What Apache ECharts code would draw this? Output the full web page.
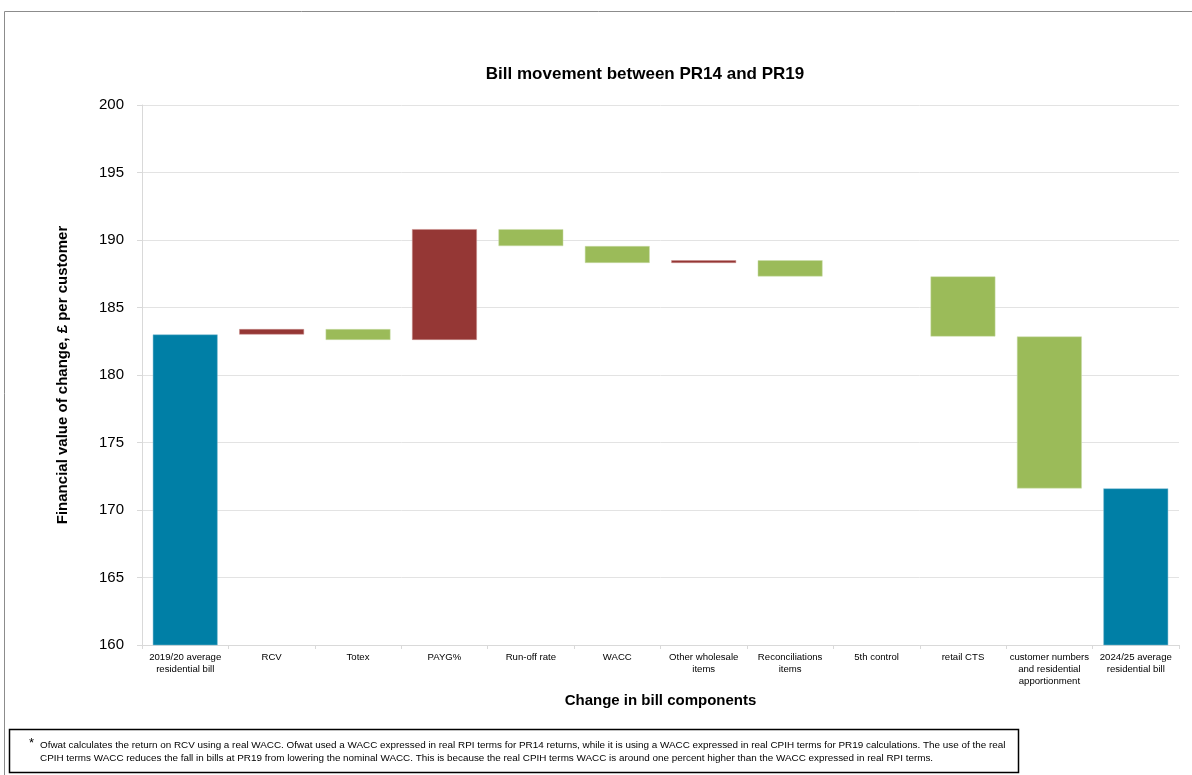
<!DOCTYPE html>
<html>
<head>
<meta charset="utf-8">
<script src="https://cdn.jsdelivr.net/npm/echarts@6/dist/echarts.min.js"></script>
<style>
  html, body { margin: 0; padding: 0; background: #ffffff; }
  #chart { width: 1192px; height: 775px; }
</style>
</head>
<body>
<div id="chart"></div>
<script>
// Bill components between the two price reviews (£ per customer)
const categories = [
  '2019/20 average\nresidential bill', 'RCV', 'Totex', 'PAYG%', 'Run-off rate', 'WACC',
  'Other wholesale\nitems', 'Reconciliations\nitems', '5th control', 'retail CTS',
  'customer numbers\nand residential\napportionment', '2024/25 average\nresidential bill'
];
// Opening bill, step changes (positive = bill goes up), closing bill
const startBill = 183.0;
const changes = [0.4, -0.8, 8.2, -1.25, -1.25, 0.2, -1.2, 0, -4.45, -11.25];
const endBill = 171.6;
const yTicks = [160, 165, 170, 175, 180, 185, 190, 195, 200];

// Waterfall built from the running total
const base = [], rise = [], fall = [], total = [];
let running = startBill;
base.push('-'); rise.push('-'); fall.push('-'); total.push(startBill);
changes.forEach(function (d) {
  const next = running + d;
  base.push(Math.min(running, next));
  rise.push(d > 0 ? d : '-');
  fall.push(d < 0 ? -d : '-');
  total.push('-');
  running = next;
});
base.push('-'); rise.push('-'); fall.push('-'); total.push(endBill);

const chart = echarts.init(document.getElementById('chart'));
const font = 'Liberation Sans, Arial, sans-serif';

chart.setOption({
  animation: false,
  title: {
    text: 'Bill movement between PR14 and PR19',
    left: 640, top: 61, textAlign: 'center',
    textStyle: { fontFamily: font, fontSize: 17, fontWeight: 'bold', color: '#000' }
  },
  grid: { left: 142, right: 13, top: 105, bottom: 130 },
  xAxis: {
    type: 'category',
    data: categories,
    name: 'Change in bill components',
    nameLocation: 'middle',
    nameGap: 48,
    nameTextStyle: { fontFamily: font, fontSize: 15, fontWeight: 'bold', color: '#000' },
    axisLine: { lineStyle: { color: '#d9d9d9' } },
    axisTick: { show: true, alignWithLabel: false, length: 4, lineStyle: { color: '#d9d9d9' } },
    axisLabel: { interval: 0, fontFamily: font, fontSize: 9.6, color: '#000', lineHeight: 12, margin: 6 }
  },
  yAxis: {
    type: 'value',
    min: 160, max: 200, interval: 5,
    name: 'Financial value of change, £ per customer',
    nameLocation: 'middle',
    nameGap: 72,
    nameTextStyle: { fontFamily: font, fontSize: 15, fontWeight: 'bold', color: '#000' },
    axisLine: { show: true, lineStyle: { color: '#d9d9d9' } },
    axisTick: { show: true, length: 5, lineStyle: { color: '#d9d9d9' } },
    axisLabel: {
      fontFamily: font, fontSize: 15, color: '#000', margin: 18,
      formatter: function (v) { return yTicks.indexOf(v) >= 0 ? String(v) : ''; }
    },
    splitLine: { lineStyle: { color: '#e3e3e3' } }
  },
  series: [
    { name: 'base', type: 'bar', stack: 'w', data: base, barWidth: '75%',
      itemStyle: { color: 'transparent' }, silent: true },
    { name: 'increase', type: 'bar', stack: 'w', data: rise, barWidth: '75%',
      itemStyle: { color: '#953735', borderColor: '#c98c8a', borderWidth: 0.5 } },
    { name: 'decrease', type: 'bar', stack: 'w', data: fall, barWidth: '75%',
      itemStyle: { color: '#9bbb59', borderColor: '#cadcaa', borderWidth: 0.5 } },
    { name: 'total', type: 'bar', stack: 'w', data: total, barWidth: '75%',
      itemStyle: { color: '#007fa6', borderColor: '#7fbcd2', borderWidth: 0.5 } }
  ],
  graphic: [
    { type: 'rect', shape: { x: 4.5, y: 11.5, width: 1200, height: 800 },
      style: { fill: 'none', stroke: '#8c8c8c', lineWidth: 1 }, z: -1 },
    { type: 'rect', shape: { x: 9.5, y: 729.5, width: 1009, height: 43 },
      style: { fill: '#ffffff', stroke: '#000000', lineWidth: 1.5 } },
    { type: 'text', left: 29, top: 737,
      style: { text: '*', fontFamily: font, fontSize: 13, fill: '#000' } },
    { type: 'text', left: 40, top: 739,
      style: {
        text: 'Ofwat calculates the return on RCV using a real WACC. Ofwat used a WACC expressed in real RPI terms for PR14 returns, while it is using a WACC expressed in real CPIH terms for PR19 calculations. The use of the real\nCPIH terms WACC reduces the fall in bills at PR19 from lowering the nominal WACC. This is because the real CPIH terms WACC is around one percent higher than the WACC expressed in real RPI terms.',
        fontFamily: font, fontSize: 9.9, lineHeight: 13, fill: '#000'
      } }
  ]
});
</script>
</body>
</html>
